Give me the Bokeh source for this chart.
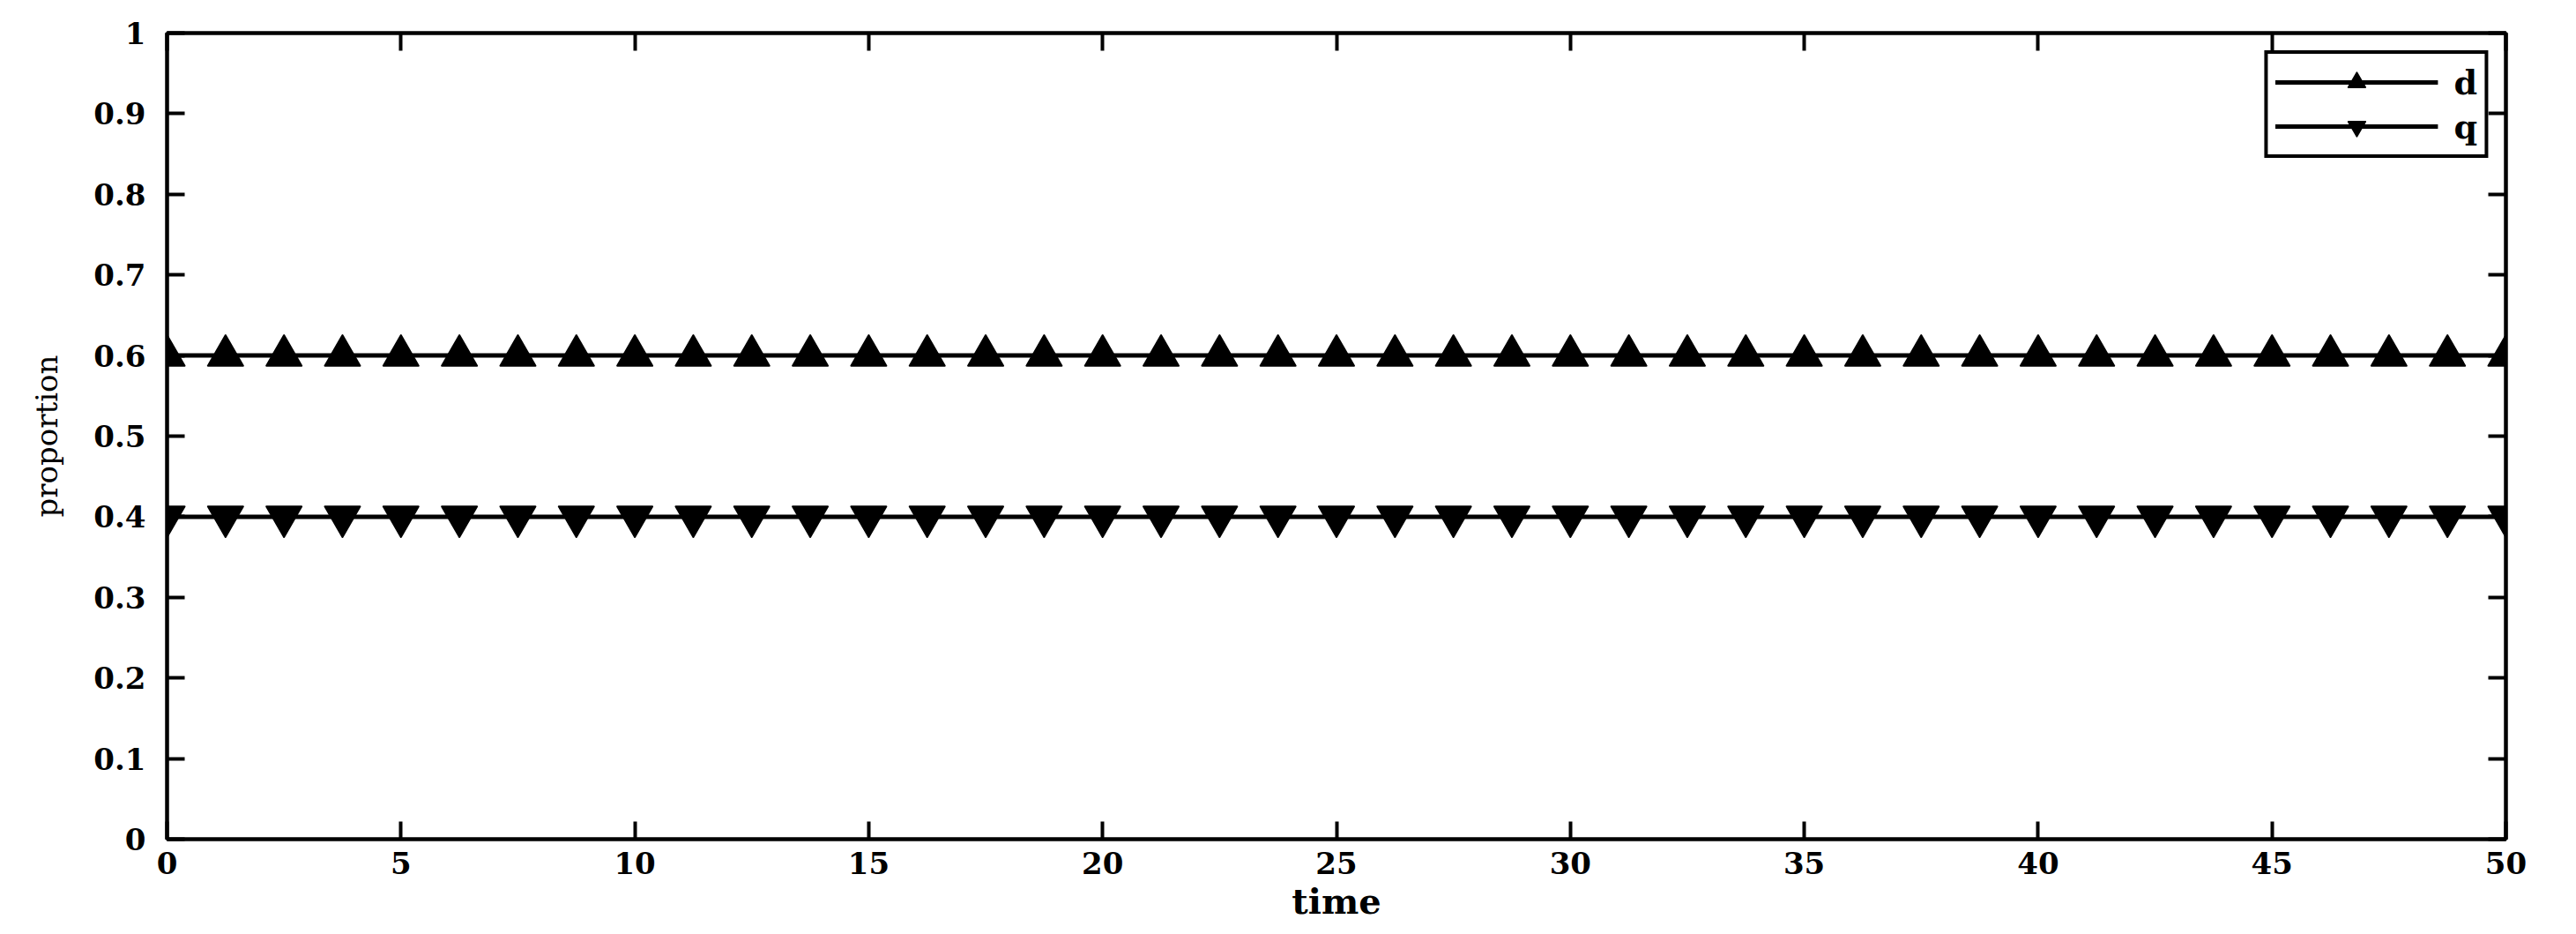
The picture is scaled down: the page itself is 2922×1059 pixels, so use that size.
from bokeh.plotting import figure
from bokeh.models import Range1d, LinearAxis, FixedTicker, Legend, LegendItem
from bokeh.embed import file_html
from bokeh.resources import INLINE

# ---- data ----
time = [0, 1.25, 2.5, 3.75, 5, 6.25, 7.5, 8.75, 10, 11.25, 12.5, 13.75, 15,
        16.25, 17.5, 18.75, 20, 21.25, 22.5, 23.75, 25, 26.25, 27.5, 28.75, 30,
        31.25, 32.5, 33.75, 35, 36.25, 37.5, 38.75, 40, 41.25, 42.5, 43.75, 45,
        46.25, 47.5, 48.75, 50]
d_values = [0.6, 0.6, 0.6, 0.6, 0.6, 0.6, 0.6, 0.6, 0.6, 0.6, 0.6, 0.6, 0.6,
            0.6, 0.6, 0.6, 0.6, 0.6, 0.6, 0.6, 0.6, 0.6, 0.6, 0.6, 0.6, 0.6,
            0.6, 0.6, 0.6, 0.6, 0.6, 0.6, 0.6, 0.6, 0.6, 0.6, 0.6, 0.6, 0.6,
            0.6, 0.6]
q_values = [0.4, 0.4, 0.4, 0.4, 0.4, 0.4, 0.4, 0.4, 0.4, 0.4, 0.4, 0.4, 0.4,
            0.4, 0.4, 0.4, 0.4, 0.4, 0.4, 0.4, 0.4, 0.4, 0.4, 0.4, 0.4, 0.4,
            0.4, 0.4, 0.4, 0.4, 0.4, 0.4, 0.4, 0.4, 0.4, 0.4, 0.4, 0.4, 0.4,
            0.4, 0.4]
x_ticks = [0, 5, 10, 15, 20, 25, 30, 35, 40, 45, 50]
y_ticks = [0, 0.1, 0.2, 0.3, 0.4, 0.5, 0.6, 0.7, 0.8, 0.9, 1]
y_tick_labels = ["0", "0.1", "0.2", "0.3", "0.4", "0.5", "0.6", "0.7", "0.8", "0.9", "1"]
series_names = ["d", "q"]

FONT = "DejaVu Serif"

p = figure(width=2914, height=1051,
           x_range=Range1d(0, 50), y_range=Range1d(0, 1),
           output_backend="svg", toolbar_location=None,
           min_border_left=189, min_border_top=37,
           min_border_right=72, min_border_bottom=100,
           background_fill_color="white", border_fill_color="white")
p.grid.visible = False
p.outline_line_color = "black"
p.outline_line_width = 4

def style_axis(ax):
    ax.axis_line_color = "black"
    ax.axis_line_width = 4
    ax.major_tick_in = 20
    ax.major_tick_out = 0
    ax.major_tick_line_width = 4
    ax.major_tick_line_color = "black"
    ax.minor_tick_line_color = None
    ax.major_label_text_font = FONT
    ax.major_label_text_font_style = "bold"
    ax.major_label_text_font_size = "34px"
    ax.major_label_text_color = "black"
    ax.axis_label_text_font = FONT
    ax.axis_label_text_font_style = "normal"
    ax.axis_label_text_color = "black"

def hide_labels(ax, ticks):
    ax.major_label_overrides = {t: "" for t in ticks}
    ax.major_label_standoff = 0
    ax.major_label_text_font_size = "0px"

p.xaxis.ticker = FixedTicker(ticks=x_ticks)
style_axis(p.xaxis[0])
p.xaxis.axis_label = "time"
p.xaxis.major_label_standoff = 14
p.xaxis.axis_label_text_font_size = "40px"
p.xaxis.axis_label_text_font_style = "bold"
p.xaxis.axis_label_standoff = 4

p.yaxis.ticker = FixedTicker(ticks=y_ticks)
style_axis(p.yaxis[0])
p.yaxis.major_label_overrides = {t: lab for t, lab in zip(y_ticks, y_tick_labels)}
p.yaxis.axis_label = "proportion"
p.yaxis.major_label_standoff = 24
p.yaxis.axis_label_text_font_size = "34px"
p.yaxis.axis_label_standoff = 30

top_axis = LinearAxis(ticker=FixedTicker(ticks=x_ticks))
right_axis = LinearAxis(ticker=FixedTicker(ticks=y_ticks))
for ax, ticks in ((top_axis, x_ticks), (right_axis, y_ticks)):
    style_axis(ax)
    hide_labels(ax, ticks)
p.add_layout(top_axis, "above")
p.add_layout(right_axis, "right")

l_d = p.line(time, d_values, line_color="black", line_width=5)
s_d = p.scatter(time, d_values, marker="triangle", size=40,
                fill_color="black", line_color="black", line_width=2, line_join="round")
l_q = p.line(time, q_values, line_color="black", line_width=5)
s_q = p.scatter(time, q_values, marker="inverted_triangle", size=40,
                fill_color="black", line_color="black", line_width=2, line_join="round")

legend = Legend(items=[LegendItem(label=series_names[0], renderers=[l_d, s_d]),
                       LegendItem(label=series_names[1], renderers=[l_q, s_q])],
                location="top_right", margin=20, padding=8, spacing=2,
                glyph_width=185, glyph_height=48, label_standoff=18,
                label_text_font=FONT, label_text_font_style="bold",
                label_text_font_size="38px", label_text_color="black",
                border_line_color="black", border_line_width=4, border_line_alpha=1,
                background_fill_color="white", background_fill_alpha=1)
p.add_layout(legend, "center")

open("out.html", "w").write(file_html(p, INLINE))
